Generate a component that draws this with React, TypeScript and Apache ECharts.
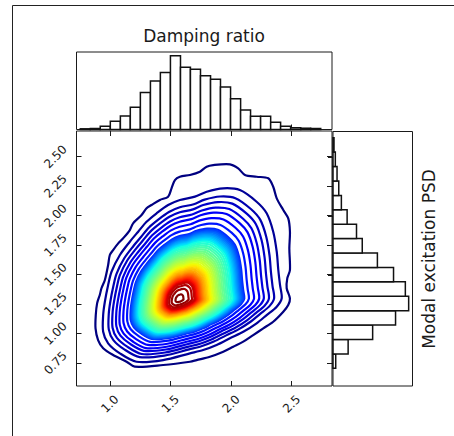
import React, { useEffect, useRef } from "react";
import * as echarts from "echarts";

// ---- axis ticks ----
const xTicks = [1.0, 1.5, 2.0, 2.5];
const yTicks = [0.75, 1.0, 1.25, 1.5, 1.75, 2.0, 2.25, 2.5];
const xRange = [0.725, 2.833];
const yRange = [0.555, 2.718];

// ---- marginal histogram: damping ratio (top) ----
const dampingBinEdges = [
  0.756, 0.839, 0.921, 1.004, 1.087, 1.169, 1.252, 1.335, 1.417, 1.5, 1.583, 1.665, 1.748,
  1.831, 1.913, 1.996, 2.079, 2.161, 2.244, 2.327, 2.409, 2.492, 2.575, 2.657, 2.74,
];
const dampingCounts = [
  7, 10, 33, 83, 137, 223, 373, 487, 573, 743, 627, 607, 540, 507, 427, 310, 197, 133, 133, 73,
  33, 17, 13, 10,
];

// ---- marginal histogram: modal excitation PSD (right) ----
const psdBinEdges = [
  0.705, 0.828, 0.95, 1.073, 1.195, 1.318, 1.44, 1.563, 1.685, 1.808, 1.93, 2.053, 2.175, 2.298,
  2.42, 2.543, 2.665,
];
const psdCounts = [27, 150, 393, 620, 750, 717, 600, 440, 290, 233, 140, 83, 57, 40, 23, 10];

// ---- joint density contours ----
const contourPeak = [1.57, 1.29];
// outermost (lowest) contour, clockwise from the left side
const outerContour = [
  [0.882, 1.044], [0.884, 1.157], [0.895, 1.256], [0.917, 1.327], [0.931, 1.384], [0.959, 1.454],
  [0.986, 1.581], [1.0, 1.666], [1.027, 1.708], [1.069, 1.765], [1.11, 1.808], [1.165, 1.878],
  [1.192, 1.935], [1.262, 2.005], [1.303, 2.062], [1.344, 2.09], [1.413, 2.133], [1.481, 2.161],
  [1.509, 2.232], [1.537, 2.302], [1.578, 2.33], [1.661, 2.345], [1.743, 2.373], [1.799, 2.415],
  [1.853, 2.429], [1.991, 2.435], [2.059, 2.401], [2.115, 2.345], [2.211, 2.33], [2.307, 2.317],
  [2.348, 2.245], [2.377, 2.147], [2.431, 2.048], [2.472, 1.977], [2.486, 1.864], [2.481, 1.723],
  [2.486, 1.539], [2.464, 1.468], [2.459, 1.384], [2.486, 1.299], [2.472, 1.242], [2.431, 1.185],
  [2.348, 1.1], [2.266, 1.044], [2.183, 0.987], [2.101, 0.931], [2.018, 0.888], [1.936, 0.846],
  [1.826, 0.803], [1.716, 0.775], [1.661, 0.761], [1.44, 0.733], [1.206, 0.719], [1.138, 0.761],
  [1.027, 0.818], [0.945, 0.875], [0.903, 0.945],
];
// second contour (the shape that the inner contours follow), clockwise from the left side
const secondContour = [
  [0.945, 1.015], [0.945, 1.157], [0.959, 1.27], [0.986, 1.412], [1.014, 1.524], [1.083, 1.666],
  [1.165, 1.779], [1.234, 1.864], [1.303, 1.948], [1.386, 2.02], [1.481, 2.09], [1.578, 2.133],
  [1.702, 2.161], [1.799, 2.203], [1.936, 2.232], [2.073, 2.217], [2.211, 2.118], [2.294, 2.02],
  [2.348, 1.864], [2.377, 1.694], [2.39, 1.539], [2.404, 1.412], [2.418, 1.299], [2.377, 1.228],
  [2.294, 1.157], [2.211, 1.087], [2.101, 1.015], [1.991, 0.96], [1.881, 0.903], [1.77, 0.86],
  [1.661, 0.832], [1.44, 0.775], [1.22, 0.761], [1.083, 0.832], [0.986, 0.917],
];
// distance from the peak as a fraction of the second contour vs. relative density level
const profileS = [0, 0.045, 0.095, 0.128, 0.151, 0.173, 0.234, 0.32, 0.415, 0.523, 0.636, 0.681, 0.731, 0.781, 0.826, 0.876, 0.926, 1.0];
const profileLevel = [0.995, 0.98, 0.96, 0.94, 0.92, 0.88, 0.75, 0.625, 0.5, 0.375, 0.18, 0.16, 0.14, 0.12, 0.1, 0.08, 0.06, 0.04];
const contourLevels = [
  0.02, 0.04, 0.06, 0.08, 0.1, 0.12, 0.14, 0.16, 0.18, 0.2, 0.22, 0.24, 0.26, 0.28, 0.3, 0.32, 0.34,
  0.36, 0.38, 0.4, 0.42, 0.44, 0.46, 0.48, 0.5, 0.52, 0.54, 0.56, 0.58, 0.6, 0.62, 0.64, 0.66,
  0.68, 0.7, 0.72, 0.74, 0.76, 0.78, 0.8, 0.82, 0.84, 0.86, 0.88, 0.9, 0.92, 0.94, 0.96, 0.98,
];

// ---- jet colormap ----
const jetR = [[0, 0], [0.35, 0], [0.66, 1], [0.89, 1], [1, 0.5]];
const jetG = [[0, 0], [0.125, 0], [0.375, 1], [0.64, 1], [0.91, 0], [1, 0]];
const jetB = [[0, 0.5], [0.11, 1], [0.34, 1], [0.65, 0], [1, 0]];
function seg(pts: number[][], v: number) {
  for (let i = 0; i < pts.length - 1; i++) {
    const [a, va] = pts[i];
    const [b, vb] = pts[i + 1];
    if (v >= a && v <= b) return va + ((v - a) / (b - a || 1)) * (vb - va);
  }
  return pts[pts.length - 1][1];
}
function jet(v: number) {
  const r = Math.round(seg(jetR, v) * 255);
  const g = Math.round(seg(jetG, v) * 255);
  const b = Math.round(seg(jetB, v) * 255);
  return `rgb(${r},${g},${b})`;
}
function sForLevel(l: number) {
  for (let i = 0; i < profileLevel.length - 1; i++) {
    const la = profileLevel[i];
    const lb = profileLevel[i + 1];
    if (l <= la && l >= lb) {
      return profileS[i] + ((l - la) / (lb - la)) * (profileS[i + 1] - profileS[i]);
    }
  }
  return 1;
}

const FONT = "DejaVu Sans";
const INK = "#1a1a1a";

function buildOption() {
  const tickStyle = { color: INK, width: 1 };
  const gridBase = { show: true, borderColor: INK, borderWidth: 1, backgroundColor: "transparent" };
  return {
    animation: false,
    grid: [
      { ...gridBase, left: 76.5, top: 131, width: 255.5, height: 255 },
      { ...gridBase, left: 76.5, top: 52, width: 255.5, height: 77.5 },
      { ...gridBase, left: 333, top: 131.5, width: 79.5, height: 254.5 },
    ],
    xAxis: [
      {
        type: "value", gridIndex: 0, position: "bottom", min: xRange[0], max: xRange[1],
        axisLine: { show: false }, splitLine: { show: false },
        axisTick: { show: true, inside: true, length: 5, customValues: xTicks, lineStyle: tickStyle },
        axisLabel: {
          show: true, customValues: xTicks, formatter: (v: number) => v.toFixed(1), rotate: 45,
          align: "center", verticalAlign: "middle", margin: 18, fontFamily: FONT, fontSize: 12, color: INK,
        },
      },
      {
        type: "value", gridIndex: 0, position: "top", min: xRange[0], max: xRange[1],
        axisLine: { show: false }, splitLine: { show: false }, axisLabel: { show: false },
        axisTick: { show: true, inside: true, length: 5, customValues: xTicks, lineStyle: tickStyle },
      },
      {
        type: "value", gridIndex: 1, position: "bottom", min: xRange[0], max: xRange[1],
        axisLine: { show: false }, splitLine: { show: false }, axisLabel: { show: false },
        axisTick: { show: true, inside: true, length: 5, customValues: xTicks, lineStyle: tickStyle },
      },
      {
        type: "value", gridIndex: 2, position: "bottom", min: 0, max: 788,
        axisLine: { show: false }, splitLine: { show: false }, axisLabel: { show: false }, axisTick: { show: false },
      },
    ],
    yAxis: [
      {
        type: "value", gridIndex: 0, position: "left", min: yRange[0], max: yRange[1],
        axisLine: { show: false }, splitLine: { show: false },
        axisTick: { show: true, inside: true, length: 5, customValues: yTicks, lineStyle: tickStyle },
        axisLabel: {
          show: true, customValues: yTicks, formatter: (v: number) => v.toFixed(2), rotate: 45,
          align: "center", verticalAlign: "middle", margin: 21, fontFamily: FONT, fontSize: 12, color: INK,
        },
      },
      {
        type: "value", gridIndex: 0, position: "right", min: yRange[0], max: yRange[1],
        axisLine: { show: false }, splitLine: { show: false }, axisLabel: { show: false },
        axisTick: { show: true, inside: true, length: 5, customValues: yTicks, lineStyle: tickStyle },
      },
      {
        type: "value", gridIndex: 1, position: "left", min: 0, max: 780,
        axisLine: { show: false }, splitLine: { show: false }, axisLabel: { show: false }, axisTick: { show: false },
      },
      {
        type: "value", gridIndex: 2, position: "right", min: yRange[0], max: yRange[1],
        axisLine: { show: false }, splitLine: { show: false }, axisLabel: { show: false },
        axisTick: { show: true, inside: true, length: 5, customValues: yTicks, lineStyle: tickStyle },
      },
    ],
    series: [
      {
        type: "custom",
        name: "density contours",
        coordinateSystem: "cartesian2d",
        xAxisIndex: 0,
        yAxisIndex: 0,
        encode: { x: 0, y: 1 },
        data: contourLevels.map((l, i) => [contourPeak[0], contourPeak[1], l, i]),
        renderItem: (_params: any, api: any) => {
          const lvl = api.value(2) as number;
          const idx = api.value(3) as number;
          let pts: number[][];
          if (idx === 0) {
            pts = outerContour.map((p) => api.coord(p));
          } else {
            const s = sForLevel(lvl);
            pts = secondContour.map(([x, y]) =>
              api.coord([contourPeak[0] + s * (x - contourPeak[0]), contourPeak[1] + s * (y - contourPeak[1])])
            );
          }
          return {
            type: "polygon",
            shape: { points: pts, smooth: 0.3 },
            style: { fill: "none", stroke: jet(idx / (contourLevels.length - 1)), lineWidth: 2.2 },
          };
        },
      },
      {
        type: "custom",
        name: "Damping ratio",
        coordinateSystem: "cartesian2d",
        xAxisIndex: 2,
        yAxisIndex: 2,
        encode: { x: [0, 1], y: 2 },
        data: dampingCounts.map((c, i) => [dampingBinEdges[i], dampingBinEdges[i + 1], c]),
        renderItem: (_params: any, api: any) => {
          const p0 = api.coord([api.value(0), 0]);
          const p1 = api.coord([api.value(1), api.value(2)]);
          return {
            type: "rect",
            shape: { x: p0[0], y: p1[1], width: p1[0] - p0[0], height: p0[1] - p1[1] },
            style: { fill: "#fff", stroke: "#111", lineWidth: 1.5 },
          };
        },
      },
      {
        type: "custom",
        name: "Modal excitation PSD",
        coordinateSystem: "cartesian2d",
        xAxisIndex: 3,
        yAxisIndex: 3,
        encode: { y: [0, 1], x: 2 },
        data: psdCounts.map((c, i) => [psdBinEdges[i], psdBinEdges[i + 1], c]),
        renderItem: (_params: any, api: any) => {
          const p0 = api.coord([0, api.value(0)]);
          const p1 = api.coord([api.value(2), api.value(1)]);
          return {
            type: "rect",
            shape: { x: p0[0], y: p1[1], width: p1[0] - p0[0], height: p0[1] - p1[1] },
            style: { fill: "#fff", stroke: "#111", lineWidth: 1.5 },
          };
        },
      },
    ],
    graphic: [
      { type: "line", shape: { x1: 12.5, y1: 5.5, x2: 454, y2: 5.5 }, style: { stroke: "#222", lineWidth: 1 } },
      { type: "line", shape: { x1: 12.5, y1: 5.5, x2: 12.5, y2: 436 }, style: { stroke: "#222", lineWidth: 1 } },
      {
        type: "text", x: 204, y: 36,
        style: { text: "Damping ratio", fill: INK, fontFamily: FONT, fontSize: 17, align: "center", verticalAlign: "middle" },
      },
      {
        type: "text", x: 429, y: 259, rotation: Math.PI / 2,
        style: { text: "Modal excitation PSD", fill: INK, fontFamily: FONT, fontSize: 17, align: "center", verticalAlign: "middle" },
      },
    ],
  };
}

export default function App() {
  const ref = useRef<HTMLDivElement>(null);
  useEffect(() => {
    if (!ref.current) return;
    const chart = echarts.init(ref.current, null, { renderer: "svg" });
    chart.setOption(buildOption() as any);
    return () => chart.dispose();
  }, []);
  return (
    <div
      ref={ref}
      style={{ position: "fixed", left: 0, top: 0, width: 454, height: 436, background: "#fff" }}
    />
  );
}
